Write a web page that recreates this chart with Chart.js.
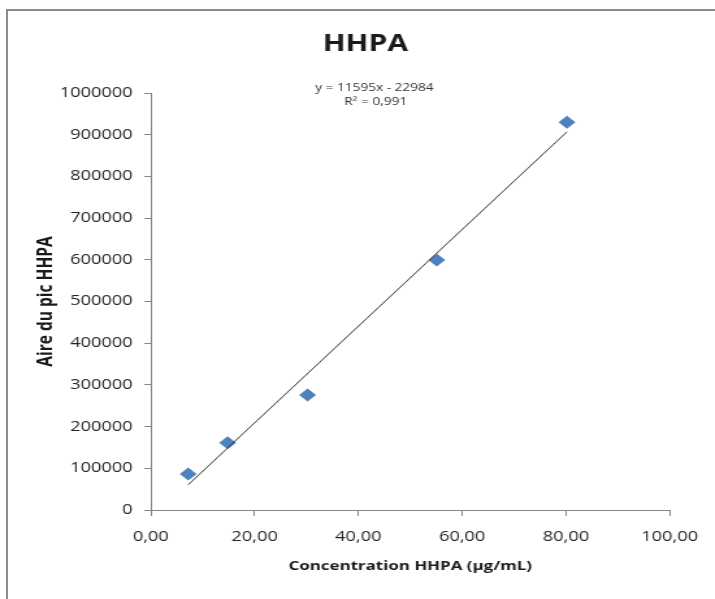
<!DOCTYPE html>
<html>
<head>
<meta charset="utf-8">
<script src="https://cdn.jsdelivr.net/npm/chart.js@4.4.1/dist/chart.umd.min.js"></script>
<style>
    body { margin: 0; background: #fff; overflow: hidden; }
    #frame {
        position: absolute;
        left: 6px;
        top: 9px;
        width: 720px;
        height: 620px;
        border-top: 2px solid #8c8c8c;
        border-left: 2px solid #8c8c8c;
    }
    /* the reference is stretched sideways, so the chart is drawn narrow and scaled */
    #wrap {
        position: absolute;
        left: 0;
        top: 0;
        width: 550px;
        height: 599px;
        transform: scaleX(1.3);
        transform-origin: 0 0;
    }
</style>
</head>
<body>
<div id="frame"></div>
<div id="wrap"><canvas id="hhpaChart" width="550" height="599"></canvas></div>
<script>
const chartTitle = 'HHPA';
const equationLines = ['y = 11595x - 22984', 'R\u00B2 = 0,991'];
const xTitle = 'Concentration HHPA (\u00B5g/mL)';
const yTitle = 'Aire du pic HHPA';

const concentrations = [7.2, 14.8, 30.2, 55.1, 80.2];
const peakAreas = [86300, 161400, 275800, 599500, 929700];

const trendX = [7.2, 80.2];
const trendY = [60500, 906900];

const xTickLabels = ['0,00', '20,00', '40,00', '60,00', '80,00', '100,00'];

Chart.defaults.font.family = "'Open Sans', sans-serif";
Chart.defaults.color = '#404040';

// title and trendline equation sit over the plot, so draw them by hand
const headerText = {
    id: 'headerText',
    afterDraw(chart) {
        const ctx = chart.ctx;
        ctx.save();
        ctx.textAlign = 'center';
        ctx.textBaseline = 'middle';
        ctx.fillStyle = '#1a1a1a';
        ctx.font = "bold 23px 'Open Sans'";
        ctx.fillText(chartTitle, 281, 44);
        ctx.fillStyle = '#333';
        ctx.font = "10.5px 'Open Sans'";
        ctx.fillText(equationLines[0], 288, 88);
        ctx.fillText(equationLines[1], 289, 102);
        ctx.restore();
    }
};

const points = concentrations.map((x, i) => ({ x, y: peakAreas[i] }));
const trend = trendX.map((x, i) => ({ x, y: trendY[i] }));

new Chart(document.getElementById('hhpaChart'), {
    type: 'scatter',
    data: {
        datasets: [{
            data: trend,
            showLine: true,
            borderColor: '#3a3a3a',
            borderWidth: 1,
            pointRadius: 0
        }, {
            data: points,
            pointStyle: 'rectRot',
            pointRadius: 6.5,
            pointHoverRadius: 6.5,
            backgroundColor: '#4f81bd',
            borderColor: '#4f81bd',
            borderWidth: 0
        }]
    },
    options: {
        responsive: false,
        animation: false,
        layout: {
            padding: { top: 93, right: 31, bottom: 10, left: 8 }
        },
        plugins: {
            legend: { display: false },
            tooltip: { enabled: false }
        },
        scales: {
            x: {
                min: 0,
                max: 100,
                afterFit: s => { s.height = 79; },
                border: { color: '#868686', width: 1 },
                grid: {
                    drawOnChartArea: false,
                    tickLength: 6,
                    tickColor: '#868686'
                },
                ticks: {
                    stepSize: 20,
                    padding: 13,
                    maxRotation: 0,
                    color: '#262626',
                    font: { size: 14 },
                    callback: (v, i) => xTickLabels[i]
                },
                title: {
                    display: true,
                    text: xTitle,
                    color: '#1a1a1a',
                    font: { size: 13, weight: 'bold' },
                    padding: { top: 0, bottom: 15 }
                }
            },
            y: {
                min: 0,
                max: 1000000,
                afterFit: s => { s.width = 108; },
                border: { color: '#868686', width: 1 },
                grid: {
                    drawOnChartArea: false,
                    tickLength: 5,
                    tickColor: '#868686'
                },
                ticks: {
                    stepSize: 100000,
                    padding: 9,
                    color: '#262626',
                    font: { size: 14 },
                    callback: v => String(v)
                },
                title: {
                    display: true,
                    text: yTitle,
                    color: '#1a1a1a',
                    font: { size: 15.5, weight: 'bold' },
                    padding: { top: 18, bottom: 0 }
                }
            }
        }
    },
    plugins: [headerText]
});
</script>
</body>
</html>
